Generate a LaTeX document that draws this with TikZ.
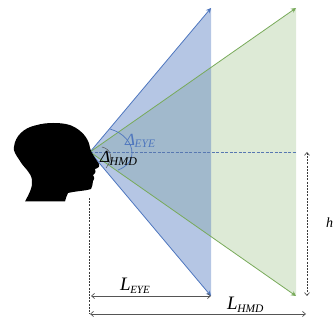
\documentclass[tikz,border=0pt]{standalone}
\usepackage{fontspec}
\setmainfont{Liberation Serif}
\usetikzlibrary{arrows.meta}
\definecolor{bl}{RGB}{78,118,190}
\definecolor{gr}{RGB}{120,170,90}
\definecolor{gy}{RGB}{85,85,85}
\newcommand{\lbl}[4]{{\fontsize{#1}{#1}\selectfont #3\kern-.5pt\raisebox{-#4pt}{\fontsize{#2}{#2}\selectfont EYE}}}
\newcommand{\lblh}[4]{{\fontsize{#1}{#1}\selectfont #3\kern-.5pt\raisebox{-#4pt}{\fontsize{#2}{#2}\selectfont HMD}}}
\tikzset{x=1pt,y=-1pt,
 ray/.style={line width=.8pt,-{Stealth[length=5pt,width=5pt]}},
 dim/.style={gy,line width=.7pt,{Straight Barb[length=3pt,width=5pt]}-{Straight Barb[length=3pt,width=5pt]}},
 dsh/.style={gy!70!black,line width=.6pt,dash pattern=on 2pt off 1.2pt},
 lab/.style={inner sep=0pt,font=\itshape}}
\begin{document}
\begin{tikzpicture}
\useasboundingbox (0,0) rectangle (333,320);
\begin{scope}
\clip (0,0) rectangle (333,320);
\coordinate (A) at (90,152);
\coordinate (bt) at (211,8);
\coordinate (bb) at (211,296);
\coordinate (gt) at (296,8);
\coordinate (gb) at (296,296);
\coordinate (dr) at (296,152);
\coordinate (hb) at (89,198);
\coordinate (hd) at (89,314);
\coordinate (va) at (307,152);
\coordinate (vb) at (307,296);
\coordinate (lstart) at (91,296);
\coordinate (lend) at (211,296);
\coordinate (mstart) at (90,314);
\coordinate (mend) at (306,314);
% fills
\fill[gr,opacity=.25] (A)--(gt)--(gb)--cycle;
\fill[bl,opacity=.42] (A)--(bt)--(bb)--cycle;
% rays
\draw[ray,bl] (A)--(bt);
\draw[ray,bl] (A)--(bb);
\draw[ray,gr] (A)--(gt);
\draw[ray,gr] (A)--(gb);
\draw[bl!80!gray,line width=.4pt,dash pattern=on 3pt off 1.5pt] (A)--(dr);
% head
\fill[black] (25,201.5) .. controls (29,194) and (33,187) .. (32,180)
 .. controls (31,172) and (24,168) .. (20,161)
 .. controls (16,155) and (13,151) .. (14,147)
 .. controls (15,136) and (24,128) .. (35,125.5)
 .. controls (42,123.5) and (48,123) .. (53,123)
 .. controls (62,123) and (70,124) .. (76,128)
 .. controls (84,133) and (89,140) .. (90,148)
 .. controls (91,153) and (96,159) .. (99,164)
 .. controls (100,167) and (98,168) .. (95,169)
 .. controls (96,171) and (96,173) .. (93,175)
 .. controls (94,177) and (95,178) .. (93,181)
 .. controls (92,184) and (93,187) .. (91,189)
 .. controls (85,191) and (76,191) .. (68,193)
 .. controls (66,196) and (66,199) .. (65,201.5) -- cycle;
% arcs
\draw[bl,line width=.7pt] (110,129) .. controls (124,133) and (132,143) .. (132,153) .. controls (132,161) and (126,167) .. (118,170);
\draw[gy,line width=.5pt] (102,147) .. controls (111,149) and (114,158) .. (106,168);
% dims
\draw[dsh] (hb)--(hd);
\draw[dsh,{Straight Barb[length=3pt,width=5pt]}-{Straight Barb[length=3pt,width=5pt]}] (va)--(vb);
\draw[dim] (lstart)--(lend);
\draw[dim] (mstart)--(mend);
% labels
\node[lab,bl,anchor=base west] (ae) at (125,146) {\lbl{17}{11.5}{Δ}{2}};
\node[lab,anchor=base west] (ah) at (100,163) {\lblh{17}{12}{Δ}{3}};
\node[lab,anchor=base west] (le) at (120,291) {\lbl{19}{11}{L}{3}};
\node[lab,anchor=base west] (lh) at (227,310) {\lblh{19}{11.5}{L}{3}};
\node[lab,anchor=base west] (h) at (326,228) {\fontsize{14}{14}\selectfont h};
\end{scope}
\end{tikzpicture}
\end{document}
